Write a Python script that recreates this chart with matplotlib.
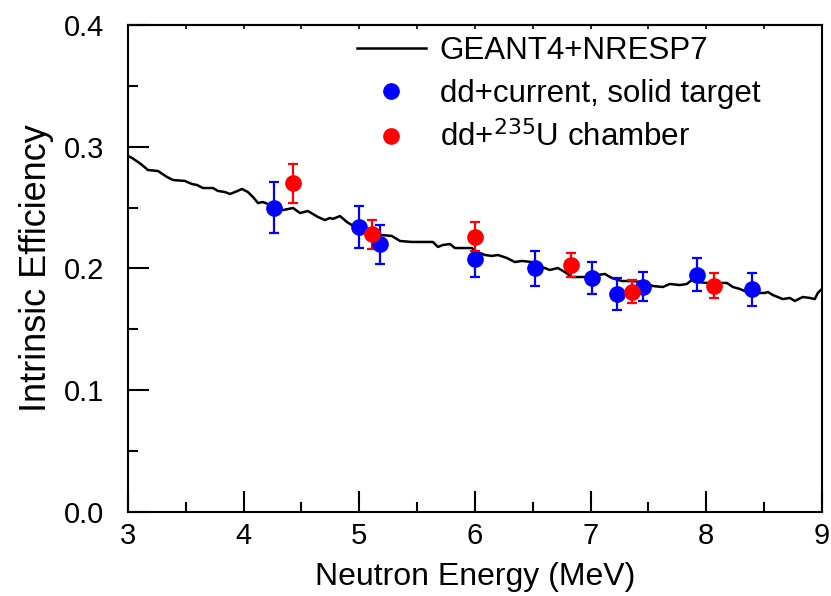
import numpy as np
import matplotlib
matplotlib.use('Agg')
import matplotlib.pyplot as plt
from matplotlib.lines import Line2D

plt.rcParams['font.family'] = ['Liberation Sans', 'DejaVu Sans']

# GEANT4+NRESP7 simulated efficiency curve
sim_energy = [3.000, 3.035, 3.086, 3.112, 3.173, 3.259, 3.337, 3.389, 3.493, 3.553,
              3.597, 3.648, 3.735, 3.778, 3.839, 3.882, 3.925, 3.986, 4.037, 4.081,
              4.124, 4.167, 4.210, 4.340, 4.427, 4.487, 4.556, 4.643, 4.703, 4.746,
              4.772, 4.833, 4.893, 4.962, 5.196, 5.282, 5.352, 5.455, 5.594, 5.637,
              5.680, 5.723, 5.784, 5.827, 5.896, 5.974, 6.000, 6.086, 6.147, 6.199,
              6.277, 6.346, 6.406, 6.493, 6.579, 6.648, 6.717, 6.778, 6.839, 6.925,
              6.977, 7.063, 7.124, 7.184, 7.271, 7.357, 7.444, 7.539, 7.625, 7.686,
              7.772, 7.833, 7.876, 7.928, 8.006, 8.058, 8.179, 8.231, 8.291, 8.351,
              8.403, 8.507, 8.533, 8.576, 8.663, 8.723, 8.766, 8.835, 8.896, 8.939,
              8.965, 9.000]
sim_eff = [0.2924, 0.2908, 0.2875, 0.2858, 0.2809, 0.2801, 0.2752, 0.2727, 0.2719, 0.2694,
           0.2686, 0.2661, 0.2661, 0.2637, 0.2628, 0.2612, 0.2628, 0.2653, 0.2628, 0.2587,
           0.2538, 0.2546, 0.2530, 0.2480, 0.2497, 0.2456, 0.2472, 0.2423, 0.2398, 0.2415,
           0.2407, 0.2431, 0.2382, 0.2341, 0.2275, 0.2267, 0.2226, 0.2218, 0.2218, 0.2218,
           0.2177, 0.2193, 0.2201, 0.2168, 0.2168, 0.2168, 0.2144, 0.2111, 0.2103, 0.2111,
           0.2086, 0.2053, 0.2062, 0.2053, 0.2012, 0.1988, 0.2004, 0.1971, 0.1930, 0.1930,
           0.1930, 0.1947, 0.1955, 0.1922, 0.1897, 0.1897, 0.1889, 0.1856, 0.1848, 0.1873,
           0.1864, 0.1873, 0.1906, 0.1889, 0.1881, 0.1881, 0.1881, 0.1848, 0.1832, 0.1807,
           0.1799, 0.1799, 0.1807, 0.1782, 0.1749, 0.1758, 0.1733, 0.1766, 0.1758, 0.1749,
           0.1799, 0.1832]

# dd + current, solid target
blue_energy = [4.26, 5.00, 5.18, 6.00, 6.52, 7.01, 7.23, 7.45, 7.92, 8.40]
blue_eff = [0.250, 0.234, 0.220, 0.208, 0.200, 0.192, 0.179, 0.185, 0.195, 0.183]
blue_err = [0.021, 0.017, 0.016, 0.015, 0.014, 0.013, 0.013, 0.012, 0.0135, 0.0135]

# dd + 235U chamber
red_energy = [4.43, 5.11, 6.00, 6.83, 7.36, 8.07]
red_eff = [0.270, 0.228, 0.226, 0.203, 0.181, 0.186]
red_err = [0.016, 0.012, 0.012, 0.010, 0.0095, 0.010]

fig = plt.figure(figsize=(8.31, 5.96), dpi=100)
ax = fig.add_axes([0.154, 0.141, 0.835, 0.817])

ax.plot(sim_energy, sim_eff, color='black', lw=1.8, zorder=2)
ax.errorbar(blue_energy, blue_eff, yerr=blue_err, fmt='o', color='#0000ff', ms=11,
            elinewidth=1.6, capsize=3.4, capthick=1.6, zorder=3)
ax.errorbar(red_energy, red_eff, yerr=red_err, fmt='o', color='#ff0000', ms=11,
            elinewidth=1.6, capsize=3.4, capthick=1.6, zorder=3)

ax.set_xlim(3, 9)
ax.set_ylim(0, 0.4)
ax.set_xticks(np.arange(3, 9.1, 1))
ax.set_xticks(np.arange(3, 9.1, 0.5), minor=True)
ax.set_yticks(np.arange(0, 0.41, 0.1))
ax.set_yticks(np.arange(0, 0.41, 0.05), minor=True)
ax.set_yticklabels(['0.0', '0.1', '0.2', '0.3', '0.4'])

for s in ax.spines.values():
    s.set_linewidth(1.5)
ax.tick_params(which='major', direction='in', length=15, width=1.5, labelsize=21)
ax.tick_params(which='minor', direction='in', length=7.5, width=1.5)
ax.tick_params(axis='y', which='both', pad=17)
ax.tick_params(axis='x', which='both', pad=7)

# short ticks on the top frame
top = ax.secondary_xaxis('top')
top.set_xticks(np.arange(3, 9.1, 0.5))
top.tick_params(direction='in', length=3, width=1.2, labeltop=False)
top.spines['top'].set_linewidth(1.5)

ax.set_xlabel('Neutron Energy (MeV)', fontsize=23, labelpad=9)
ax.set_ylabel('Intrinsic Efficiency', fontsize=26, labelpad=7)

handles = [
    Line2D([], [], color='black', lw=1.8),
    Line2D([], [], color='#0000ff', marker='o', ls='none', ms=11),
    Line2D([], [], color='#ff0000', marker='o', ls='none', ms=11),
]
labels = ['GEANT4+NRESP7', 'dd+current, solid target', 'dd+$^{235}$U chamber']
ax.legend(handles, labels, loc='upper left', bbox_to_anchor=(0.33, 0.978),
          frameon=False, fontsize=22.5, handlelength=2.2, handletextpad=0.45,
          labelspacing=0.41, borderpad=0, borderaxespad=0)

fig.savefig('out.png', dpi=100)
